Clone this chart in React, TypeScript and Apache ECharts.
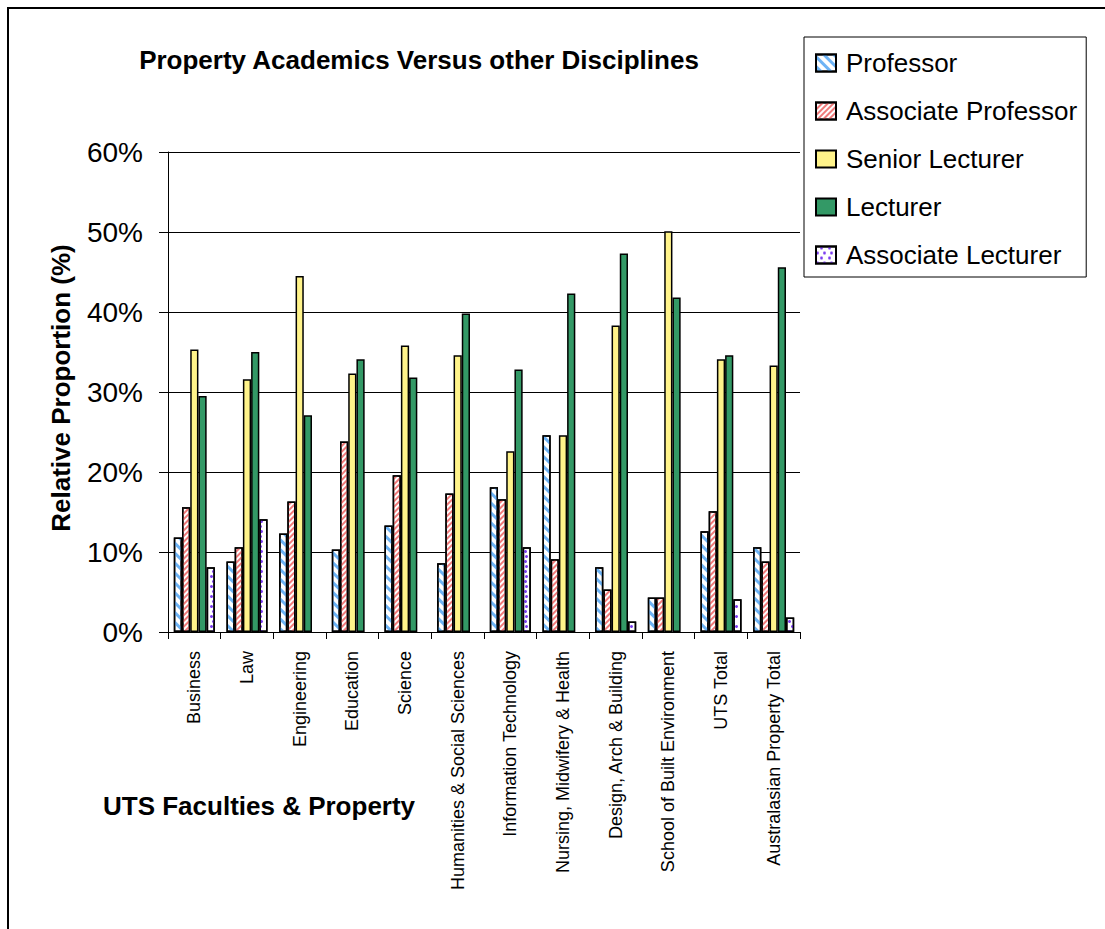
import React, { useEffect, useRef } from "react";
import * as echarts from "echarts";

const categories = [
  "Business",
  "Law",
  "Engineering",
  "Education",
  "Science",
  "Humanities & Social Sciences",
  "Information Technology",
  "Nursing, Midwifery & Health",
  "Design, Arch & Building",
  "School of Built Environment",
  "UTS Total",
  "Australasian Property Total",
];

const seriesNames = ["Professor", "Associate Professor", "Senior Lecturer", "Lecturer", "Associate Lecturer"];

const professor = [11.8, 8.8, 12.3, 10.3, 13.3, 8.6, 18.1, 24.6, 8.1, 4.3, 12.6, 10.6];
const associateProfessor = [15.6, 10.6, 16.3, 23.8, 19.6, 17.3, 16.6, 9.1, 5.3, 4.3, 15.1, 8.8];
const seniorLecturer = [35.3, 31.6, 44.5, 32.3, 35.8, 34.6, 22.6, 24.6, 38.3, 50.1, 34.1, 33.3];
const lecturer = [29.5, 35.0, 27.1, 34.1, 31.8, 39.8, 32.8, 42.3, 47.3, 41.8, 34.6, 45.6];
const associateLecturer = [8.1, 14.1, null, null, null, null, 10.6, null, 1.3, null, 4.1, 1.8];

const yTicks = { min: 0, max: 60, interval: 10 };

const titleText = "Property Academics Versus other Disciplines";
const yAxisTitle = "Relative Proportion (%)";
const xAxisTitle = "UTS Faculties & Property";

const FONT = "'Liberation Sans', Arial, sans-serif";

export default function App() {
  const ref = useRef<HTMLDivElement>(null);

  useEffect(() => {
    if (!ref.current) return;
    const chart = echarts.init(ref.current, undefined, { renderer: "svg" });

    const border = { borderColor: "#000", borderWidth: 1.5 };

    const styles: any[] = [
      {
        color: "#ffffff",
        ...border,
        decal: {
          symbol: "rect",
          color: "#6db3f5",
          backgroundColor: "#ffffff",
          dashArrayX: [1, 0],
          dashArrayY: [3, 4],
          symbolSize: 1,
          rotation: Math.PI / 4,
        },
      },
      {
        color: "#ffffff",
        ...border,
        decal: {
          symbol: "rect",
          color: "#f07a7a",
          backgroundColor: "#ffffff",
          dashArrayX: [1, 0],
          dashArrayY: [1.5, 2],
          symbolSize: 1,
          rotation: -Math.PI / 4,
        },
      },
      { color: "#fff38a", ...border },
      { color: "#339966", ...border },
      {
        color: "#ffffff",
        ...border,
        decal: {
          symbol: "circle",
          color: "#7a3cf0",
          backgroundColor: "#ffffff",
          dashArrayX: [[3, 4], [0, 3.5, 3, 0.5]],
          dashArrayY: [3, 2],
          symbolSize: 1,
          rotation: 0,
        },
      },
    ];

    const dataSets = [professor, associateProfessor, seniorLecturer, lecturer, associateLecturer];

    chart.setOption({
      animation: false,
      backgroundColor: "#ffffff",
      textStyle: { fontFamily: FONT, color: "#000" },
      grid: { left: 168, top: 152, right: 305, bottom: 297, containLabel: false },
      legend: {
        orient: "vertical",
        left: 804,
        top: 37,
        padding: [11, 9, 7, 11],
        itemGap: 18,
        itemWidth: 20,
        itemHeight: 17,
        icon: "rect",
        borderColor: "#000",
        borderWidth: 1,
        backgroundColor: "#fff",
        textStyle: { fontSize: 26, lineHeight: 30, color: "#000", fontFamily: FONT, padding: [0, 0, 0, 5] },
        data: seriesNames,
      },
      xAxis: {
        type: "category",
        data: categories,
        axisLine: { show: true, lineStyle: { color: "#000", width: 1 } },
        axisTick: { show: true, length: 7, alignWithLabel: false, lineStyle: { color: "#000" } },
        axisLabel: {
          rotate: 90,
          interval: 0,
          fontSize: 18,
          margin: 19,
          color: "#000",
          fontFamily: FONT,
        },
        splitLine: { show: false },
      },
      yAxis: {
        type: "value",
        min: yTicks.min,
        max: yTicks.max,
        interval: yTicks.interval,
        axisLine: { show: true, lineStyle: { color: "#000", width: 1 } },
        axisTick: { show: true, inside: false, length: 9, lineStyle: { color: "#000" } },
        axisLabel: { formatter: "{value}%", fontSize: 28, margin: 25, color: "#000", fontFamily: FONT },
        splitLine: { show: true, lineStyle: { color: "#000", width: 1 } },
      },
      series: seriesNames.map((name, i) => ({
        name,
        type: "bar",
        data: dataSets[i],
        barGap: "0%",
        barCategoryGap: "22%",
        itemStyle: styles[i],
        emphasis: { disabled: true },
      })),
      graphic: [
        {
          type: "rect",
          silent: true,
          shape: { x: 8, y: 8, width: 1200, height: 1000 },
          style: { fill: "none", stroke: "#000", lineWidth: 2 },
        },
        {
          type: "text",
          x: 419,
          y: 60,
          style: {
            text: titleText,
            fill: "#000",
            font: `bold 26px ${FONT}`,
            textAlign: "center",
            textVerticalAlign: "middle",
          },
        },
        {
          type: "text",
          x: 61,
          y: 388,
          rotation: Math.PI / 2,
          style: {
            text: yAxisTitle,
            fill: "#000",
            font: `bold 26px ${FONT}`,
            textAlign: "center",
            textVerticalAlign: "middle",
          },
        },
        {
          type: "text",
          x: 103,
          y: 806,
          style: {
            text: xAxisTitle,
            fill: "#000",
            font: `bold 26px ${FONT}`,
            textAlign: "left",
            textVerticalAlign: "middle",
          },
        },
      ],
    });

    return () => chart.dispose();
  }, []);

  return (
    <div
      ref={ref}
      style={{ position: "absolute", left: 0, top: 0, width: 1105, height: 929 }}
    />
  );
}
